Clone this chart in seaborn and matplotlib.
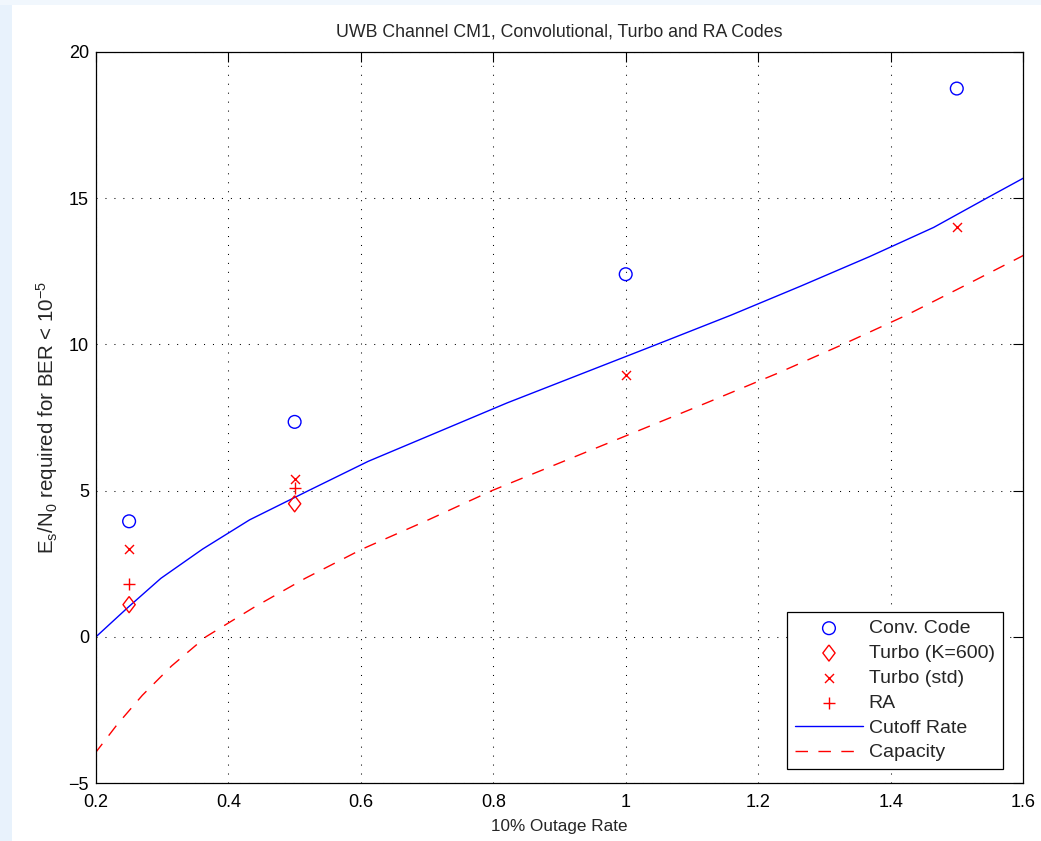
import numpy as np
import pandas as pd
import matplotlib
matplotlib.use('Agg')
import matplotlib.pyplot as plt
from matplotlib.patches import Rectangle
import seaborn as sns

# measured points (outage rate vs Es/N0 in dB)
conv_x = [0.25, 0.5, 1.0, 1.5]
conv_y = [3.95, 7.35, 12.4, 18.75]

turbo600_x = [0.25, 0.5]
turbo600_y = [1.1, 4.55]

turbo_std_x = [0.25, 0.5, 1.0, 1.5]
turbo_std_y = [3.0, 5.4, 8.95, 14.0]

ra_x = [0.25, 0.5]
ra_y = [1.8, 5.1]

# cutoff rate curve, one point per dB
cutoff_y = [0, 1, 2, 3, 4, 5, 6, 7, 8, 9, 10, 11, 12, 13, 14, 15, 16]
cutoff_x = [0.2, 0.248, 0.298, 0.361, 0.432, 0.521, 0.611, 0.716, 0.821, 0.934,
            1.047, 1.159, 1.265, 1.368, 1.465, 1.545, 1.626]

# capacity curve, one point per dB
cap_y = [-4, -3, -2, -1, 0, 1, 2, 3, 4, 5, 6, 7, 8, 9, 10, 11, 12, 13, 14]
cap_x = [0.198, 0.232, 0.270, 0.314, 0.366, 0.438, 0.516, 0.602, 0.702, 0.798,
         0.906, 1.014, 1.122, 1.228, 1.328, 1.424, 1.511, 1.597, 1.68]

xticks = [0.2, 0.4, 0.6, 0.8, 1.0, 1.2, 1.4, 1.6]
xtick_labels = ['0.2', '0.4', '0.6', '0.8', '1', '1.2', '1.4', '1.6']
yticks = [-5, 0, 5, 10, 15, 20]

sns.set_style('white')
plt.rcParams['font.family'] = ['Liberation Sans', 'DejaVu Sans']
plt.rcParams['mathtext.default'] = 'regular'

fs = 13
blue = '#0000ff'
red = '#ff0000'
# matlab style diamond (a bit narrower than tall)
diamond = [(0, 1), (0.76, 0), (0, -1), (-0.76, 0), (0, 1)]

fig = plt.figure(figsize=(10.41, 8.41), dpi=100)
fig.patches.append(Rectangle((0, 0), 12 / 1041, 1, transform=fig.transFigure,
                             facecolor='#e8f2fc', edgecolor='none', zorder=-10))
fig.patches.append(Rectangle((0, 1 - 5 / 841), 1, 5 / 841, transform=fig.transFigure,
                             facecolor='#f1f7fd', edgecolor='none', zorder=-10))
ax = fig.add_axes([96 / 1041, 58 / 841, 927 / 1041, 731 / 841])

sns.scatterplot(x=conv_x, y=conv_y, marker='o', s=84, facecolors='none',
                edgecolors=blue, linewidths=1, label='Conv. Code', ax=ax, zorder=3)
sns.scatterplot(x=turbo600_x, y=turbo600_y, marker=diamond, s=135, facecolors='none',
                edgecolors=red, linewidths=1, label='Turbo (K=600)', ax=ax, zorder=3)
sns.scatterplot(x=turbo_std_x, y=turbo_std_y, marker='x', s=42, color=red,
                linewidths=1, label='Turbo (std)', ax=ax, zorder=3)
sns.scatterplot(x=ra_x, y=ra_y, marker='+', s=85, color=red,
                linewidths=1, label='RA', ax=ax, zorder=3)

sns.lineplot(x=cutoff_x, y=cutoff_y, color=blue, lw=1, sort=False,
             label='Cutoff Rate', ax=ax)
sns.lineplot(x=cap_x, y=cap_y, color=red, lw=1, sort=False,
             label='Capacity', ax=ax)
ax.lines[-1].set_dashes([9, 7.5])

ax.set_xlim(0.2, 1.6)
ax.set_ylim(-5, 20)
ax.set_xticks(xticks)
ax.set_xticklabels(xtick_labels)
ax.set_yticks(yticks)
ax.tick_params(direction='in', length=7, width=0.8, top=True, right=True,
               labelsize=fs, colors='black')
ax.tick_params(axis='x', pad=8)
ax.tick_params(axis='y', pad=5)
for sp in ax.spines.values():
    sp.set_visible(True)
    sp.set_color('black')
    sp.set_linewidth(0.9)

ax.grid(True, color='black', lw=0.75, linestyle=(0, (1, 7.6)))

ax.set_title('UWB Channel CM1, Convolutional, Turbo and RA Codes', fontsize=12.8, pad=11)
ax.set_xlabel('10% Outage Rate', fontsize=12.3, labelpad=6)
ax.set_ylabel('$E_s/N_0$ required for BER < $10^{-5}$', fontsize=14.8, labelpad=6)

leg = ax.legend(loc='lower right', bbox_to_anchor=(0.978, 0.019), borderaxespad=0,
                fontsize=14, frameon=True, fancybox=False, shadow=False,
                handlelength=3.5, handletextpad=0.3, labelspacing=0.37,
                borderpad=0.4, scatterpoints=1)
leg.get_frame().set_edgecolor('black')
leg.get_frame().set_linewidth(0.9)
leg.get_frame().set_alpha(1)

fig.savefig('out.png', dpi=100)
